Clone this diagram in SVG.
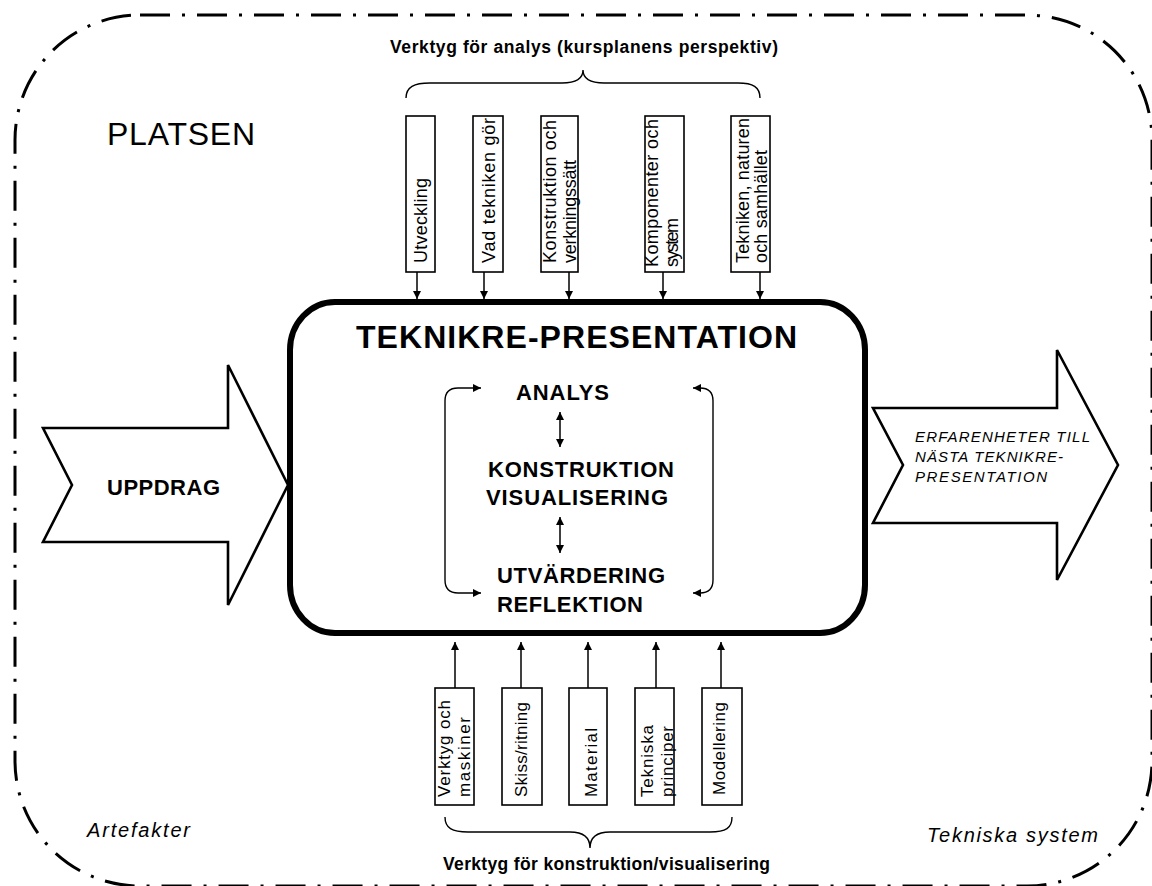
<svg xmlns="http://www.w3.org/2000/svg" width="1152" height="886" viewBox="0 0 1152 886">
<style>
text{font-family:"Liberation Sans",Arial,sans-serif;fill:#000}
.ttl{font-weight:bold;font-size:17.5px}
.lab{font-size:18px}
.labs{font-size:17px}
.big{font-weight:bold;font-size:32px}
.stg{font-weight:bold;font-size:22px}
.it{font-style:italic}
.box{fill:#fff;stroke:#000;stroke-width:1.6}
.thin{fill:none;stroke:#000;stroke-width:1.4}
.con{fill:none;stroke:#000;stroke-width:1.5}
.big-arrow{fill:#fff;stroke:#000;stroke-width:2.6;stroke-linejoin:miter}
</style>
<defs>
<marker id="ah" markerUnits="userSpaceOnUse" viewBox="0 0 10 10" refX="10" refY="5" markerWidth="9" markerHeight="8" orient="auto-start-reverse">
<path d="M0,0 L10,5 L0,10 Z" fill="#000"/>
</marker>
</defs>
<rect width="1152" height="886" fill="#fff"/>
<g id="platsen">
<rect x="15" y="15" width="1137" height="871" rx="125" ry="125" fill="none" stroke="#000" stroke-width="3" stroke-dasharray="30 12 3 12"/>
<text x="107" y="145" font-size="32" textLength="148">PLATSEN</text>
<text class="it" x="87" y="837" font-size="20" textLength="103">Artefakter</text>
<text class="it" x="927" y="842" font-size="20" textLength="171">Tekniska system</text>
</g>
<g id="uppdrag">
<polygon class="big-arrow" points="43,428 228,428 228,365 288,485 228,605 228,542 43,542 72,485"/>
<text class="stg" x="107" y="495" textLength="113">UPPDRAG</text>
</g>
<g id="erfarenheter">
<polygon class="big-arrow" points="873,408 1057,408 1057,350 1118,465 1057,580 1057,523 873,523 903,465"/>
<text class="it" font-size="15" x="915" y="442" textLength="175">ERFARENHETER TILL</text>
<text class="it" font-size="15" x="915" y="462" textLength="148">NÄSTA TEKNIKRE-</text>
<text class="it" font-size="15" x="915" y="482" textLength="132">PRESENTATION</text>
</g>
<g id="teknikre-presentation">
<rect x="290" y="302" width="575" height="331" rx="45" ry="48" fill="#fff" stroke="#000" stroke-width="6"/>
<text class="big" x="576.5" y="348" text-anchor="middle" textLength="441">TEKNIKRE-PRESENTATION</text>
</g>
<g id="analys"><text class="stg" x="562.5" y="400" text-anchor="middle" textLength="93">ANALYS</text></g>
<g id="konstruktion"><text class="stg" x="581" y="477" text-anchor="middle" textLength="186">KONSTRUKTION</text>
<text class="stg" x="577" y="505" text-anchor="middle" textLength="182">VISUALISERING</text></g>
<g id="utvardering"><text class="stg" x="581" y="583" text-anchor="middle" textLength="168">UTVÄRDERING</text>
<text class="stg" x="570" y="612" text-anchor="middle" textLength="146">REFLEKTION</text></g>
<g id="analys-tools">
<text class="ttl" x="584" y="53" text-anchor="middle" textLength="388">Verktyg för analys (kursplanens perspektiv)</text>
<path class="thin" d="M406,98 C406,87 414,83 430,83 L562,83 C577,83 583,78 583,70 C583,78 589,83 604,83 L738,83 C753,83 760,87 760,98"/>
</g>
<g id="t1"><rect class="box" x="406" y="116" width="29" height="156"/><text class="lab" transform="rotate(-90 427 263)" x="427" y="263" textLength="85">Utveckling</text></g>
<g id="t2"><rect class="box" x="473" y="116" width="30" height="156"/><text class="lab" transform="rotate(-90 495 263)" x="495" y="263" textLength="145">Vad tekniken gör</text></g>
<g id="t3"><rect class="box" x="541" y="116" width="37" height="156"/><text class="lab" transform="rotate(-90 556 263)" x="556" y="263" textLength="143">Konstruktion och</text><text class="lab" transform="rotate(-90 576 263)" x="576" y="263" textLength="103">verkningssätt</text></g>
<g id="t4"><rect class="box" x="645" y="116" width="39" height="156"/><text class="lab" transform="rotate(-90 658 267)" x="658" y="267" textLength="148">Komponenter och</text><text class="lab" transform="rotate(-90 678 267)" x="678" y="267" textLength="49">system</text></g>
<g id="t5"><rect class="box" x="731" y="116" width="39" height="156"/><text class="lab" transform="rotate(-90 749 263)" x="749" y="263" textLength="145">Tekniken, naturen</text><text class="lab" transform="rotate(-90 767 263)" x="767" y="263" textLength="113">och samhället</text></g>
<g id="construction-tools">
<text class="ttl" x="606.5" y="870" text-anchor="middle" textLength="327">Verktyg för konstruktion/visualisering</text>
<path class="thin" d="M445,817 C445,828 452,832 468,832 L570,832 C584,832 590,838 590,848 C590,838 596,832 610,832 L710,832 C726,832 732,828 732,817"/>
</g>
<g id="b1"><rect class="box" x="435" y="688" width="39" height="117"/><text class="labs" transform="rotate(-90 450 797)" x="450" y="797" textLength="97">Verktyg och</text><text class="labs" transform="rotate(-90 470 797)" x="470" y="797" textLength="80">maskiner</text></g>
<g id="b2"><rect class="box" x="502" y="688" width="40" height="117"/><text class="labs" transform="rotate(-90 527 797)" x="527" y="797" textLength="95">Skiss/ritning</text></g>
<g id="b3"><rect class="box" x="569" y="688" width="38" height="117"/><text class="labs" transform="rotate(-90 597 797)" x="597" y="797" textLength="69">Material</text></g>
<g id="b4"><rect class="box" x="635" y="688" width="39" height="117"/><text class="labs" transform="rotate(-90 653 797)" x="653" y="797" textLength="72">Tekniska</text><text class="labs" transform="rotate(-90 673 797)" x="673" y="797" textLength="71">principer</text></g>
<g id="b5"><rect class="box" x="702" y="688" width="40" height="117"/><text class="labs" transform="rotate(-90 725 795)" x="725" y="795" textLength="93">Modellering</text></g>
<g id="connectors">
<line class="con" x1="417" y1="272" x2="417" y2="299" marker-end="url(#ah)"/>
<line class="con" x1="484" y1="272" x2="484" y2="299" marker-end="url(#ah)"/>
<line class="con" x1="569" y1="272" x2="569" y2="299" marker-end="url(#ah)"/>
<line class="con" x1="663" y1="272" x2="663" y2="299" marker-end="url(#ah)"/>
<line class="con" x1="760" y1="272" x2="760" y2="299" marker-end="url(#ah)"/>
<line class="con" x1="455" y1="688" x2="455" y2="642" marker-end="url(#ah)"/>
<line class="con" x1="521" y1="688" x2="521" y2="642" marker-end="url(#ah)"/>
<line class="con" x1="588" y1="688" x2="588" y2="642" marker-end="url(#ah)"/>
<line class="con" x1="656" y1="688" x2="656" y2="642" marker-end="url(#ah)"/>
<line class="con" x1="721" y1="688" x2="721" y2="642" marker-end="url(#ah)"/>
<line class="con" x1="560" y1="412" x2="560" y2="447" marker-start="url(#ah)" marker-end="url(#ah)"/>
<line class="con" x1="560" y1="517" x2="560" y2="553" marker-start="url(#ah)" marker-end="url(#ah)"/>
<path class="thin" d="M481,388 L458,388 Q445,388 445,401 L445,580 Q445,593 458,593 L481,593" marker-start="url(#ah)" marker-end="url(#ah)"/>
<path class="thin" d="M693,388 L700,388 Q713,388 713,401 L713,580 Q713,593 700,593 L693,593" marker-start="url(#ah)" marker-end="url(#ah)"/>
</g>
</svg>
